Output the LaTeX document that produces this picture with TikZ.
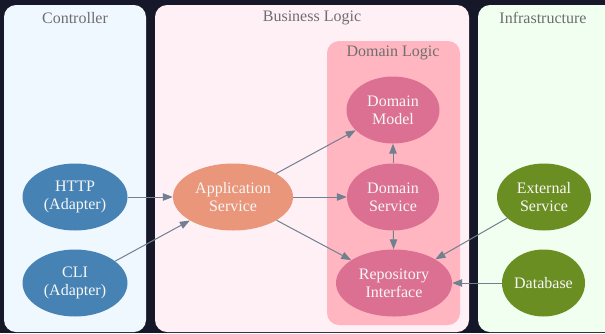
\documentclass[tikz,border=0pt]{standalone}
\usepackage{fontspec}
\setmainfont{Liberation Serif}
\usetikzlibrary{arrows.meta, positioning, shapes.geometric}

\definecolor{bgdark}{HTML}{17172A}
\definecolor{ctrlfill}{HTML}{F0F8FF}
\definecolor{bizfill}{HTML}{FFF0F5}
\definecolor{infrafill}{HTML}{F0FFF0}
\definecolor{domfill}{HTML}{FFB6C1}
\definecolor{adaptercol}{HTML}{4682B4}
\definecolor{appcol}{HTML}{E9967A}
\definecolor{domaincol}{HTML}{DB7093}
\definecolor{infracol}{HTML}{6B8E23}
\definecolor{edgecol}{HTML}{708090}
\definecolor{labelcol}{HTML}{6E6E6E}

\begin{document}
\begin{tikzpicture}[
    x=1pt, y=-1pt,
    panel/.style={rounded corners=12pt},
    paneltitle/.style={text=labelcol, font=\fontsize{16}{18}\selectfont},
    comp/.style={ellipse, inner sep=0pt, align=center, text=white!97!black,
        font=\fontsize{16}{18}\selectfont},
    adapter/.style={comp, fill=adaptercol, minimum width=105pt, minimum height=67pt},
    app/.style={comp, fill=appcol, minimum width=120pt, minimum height=67pt},
    domnode/.style={comp, fill=domaincol, minimum height=67pt},
    infranode/.style={comp, fill=infracol, minimum height=67pt},
    dep/.style={-{Triangle[length=10pt, width=7.5pt]}, edgecol, line width=1pt}
]

% Background and page size
\clip (0,0) rectangle (605,333);
\fill[bgdark] (0,0) rectangle (605,333);

% Layer panels
\fill[panel, ctrlfill] (4,5) rectangle (146,332);
\fill[panel, bizfill] (155,5) rectangle (469,332);
\fill[panel, infrafill] (478,5) rectangle (625,332);
\fill[panel, domfill] (327,41) rectangle (460,325);

% Panel titles
\node[paneltitle] (tctrl) at (75,18) {Controller};
\node[paneltitle] (tbiz) at (312,18) {Business Logic};
\node[paneltitle] (tinfra) at (543,18) {Infrastructure};
\node[paneltitle] (tdom) at (393,53) {Domain Logic};

% Adapters
\node[adapter] (http) at (75,197) {HTTP\\(Adapter)};
\node[adapter] (cli) at (75,283) {CLI\\(Adapter)};

% Business logic
\node[app] (appsvc) at (233,197) {Application\\Service};
\node[domnode, minimum width=93pt] (dmodel) at (393,110) {Domain\\Model};
\node[domnode, minimum width=92pt] (dsvc) at (393,197) {Domain\\Service};
\node[domnode, minimum width=116pt] (repo) at (394,283) {Repository\\Interface};

% Infrastructure
\node[infranode, minimum width=94pt] (ext) at (544,197) {External\\Service};
\node[infranode, minimum width=83pt] (db) at (543.5,283) {Database};

% Dependencies
\draw[dep] (http) -- (appsvc);
\draw[dep] (cli) -- (appsvc);
\draw[dep] (appsvc) -- (dmodel);
\draw[dep] (appsvc) -- (dsvc);
\draw[dep] (appsvc) -- (repo);
\draw[dep] (dsvc) -- (dmodel);
\draw[dep] (dsvc) -- (repo);
\draw[dep] (ext) -- (repo);
\draw[dep] (db) -- (repo);

\end{tikzpicture}
\end{document}
